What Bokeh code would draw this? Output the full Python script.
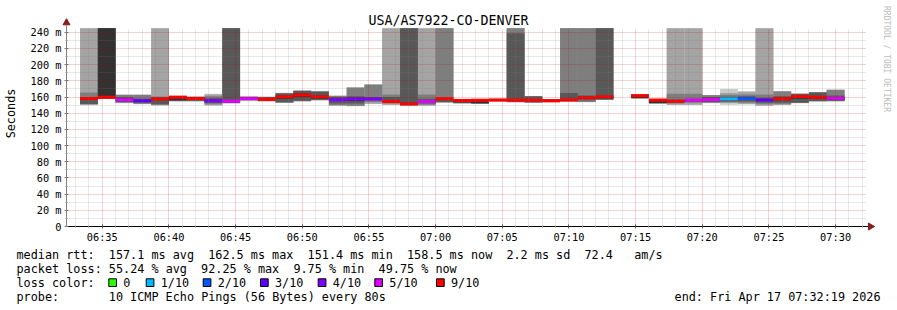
import math
import re
from bokeh.plotting import figure
from bokeh.layouts import row, column
from bokeh.models import FixedTicker, Range1d, ColumnDataSource, Grid, Spacer
from bokeh.core.properties import value
from bokeh.embed import file_html
from bokeh.resources import INLINE

# ---------------------------------------------------------------- data
T = 999.0  # ping above the graph maximum -> drawn up to the top

# 10 sorted ping rtts (ms) per 80 s step, starting 06:33:20 (None = no data)
pings = [
    [150.0, 150.6, 151.0, 151.5, 157.0, 159.0, 160.0, 165.7, T, T],
    [157.5, 157.8, 158.0, 158.2, 158.5, T, T, T, T, T],
    [152.2, 152.5, 152.8, 154.0, 155.0, 158.0, 160.0, 162.5, 162.8, 163.0],
    [151.0, 151.4, 151.8, 153.0, 154.5, 156.5, 158.0, 162.5, 162.9, 163.2],
    [149.4, 150.0, 150.6, 151.0, 156.0, 158.5, 160.0, 160.8, T, T],
    [154.5, 154.7, 155.0, 155.3, 156.0, 160.5, 161.0, 161.3, 161.5, 161.6],
    [154.5, 154.7, 155.0, 155.5, 156.5, 159.5, 160.0, 160.3, 160.5, 160.7],
    [149.4, 150.0, 151.0, 152.5, 154.0, 157.0, 158.5, 161.0, 163.0, 164.0],
    [152.0, 152.3, 152.5, 153.0, 154.0, 156.0, T, T, T, T],
    [154.7, 155.0, 157.0, 157.3, 157.6, 158.8, 159.1, 159.4, 161.0, 161.3],
    [154.5, 154.7, 155.0, 155.2, 156.0, 158.5, 159.8, 160.0, 160.2, 160.4],
    [152.8, 153.0, 153.2, 153.5, 158.0, 162.0, 164.5, 164.8, 165.0, 165.2],
    [154.5, 154.7, 155.0, 155.5, 160.0, 164.5, 167.5, 167.7, 168.0, 168.2],
    [155.7, 156.0, 156.2, 156.5, 158.0, 162.0, 166.5, 166.8, 167.0, 167.2],
    [149.2, 149.4, 149.7, 152.0, 155.0, 158.0, 160.0, 161.4, 161.6, 161.8],
    [148.5, 148.8, 149.2, 152.0, 155.0, 159.5, 161.0, 171.5, 171.8, 172.0],
    [151.5, 151.8, 154.0, 156.0, 157.0, 158.5, 160.0, 175.3, 175.5, 175.7],
    [150.3, 150.6, 152.0, 153.0, 154.0, 156.0, 160.0, 163.0, T, T],
    [149.0, 149.4, 149.8, 150.2, 151.0, 153.0, T, T, T, T],
    [149.2, 149.4, 150.5, 152.0, 153.5, 156.0, 158.0, 163.0, T, T],
    [153.0, 153.3, 153.5, 154.0, 156.5, 157.5, 158.5, T, T, T],
    [152.0, 152.2, 152.4, 152.6, 153.5, 157.0, 157.3, 157.5, 157.7, 157.9],
    [151.5, 151.8, 152.0, 152.2, 152.4, 156.5, 157.0, 157.3, 157.5, 157.7],
    [154.5, 154.7, 154.9, 155.0, 155.2, 157.2, 157.5, 157.7, 157.9, 158.0],
    [153.5, 153.7, 154.0, 154.2, 155.0, 157.0, 238.7, T, T, T],
    [152.8, 153.0, 153.2, 153.5, 155.0, 157.5, 160.8, 161.0, 161.2, 161.4],
    [153.5, 153.7, 154.0, 154.2, 154.5, 156.5, 157.0, 157.2, 157.4, 157.6],
    [154.2, 154.5, 154.7, 155.0, 155.5, 157.6, 165.0, T, T, T],
    [153.5, 153.8, 154.0, 156.0, 157.5, 160.5, 162.0, T, T, T],
    [156.2, 156.5, 156.7, 157.0, 158.5, 161.0, T, T, T, T],
    None,
    [158.2, 158.4, 158.5, 158.6, 158.7, 162.7, 162.8, 162.9, 163.0, 163.1],
    [151.8, 152.0, 152.2, 152.4, 152.6, 156.8, 157.0, 157.2, 157.4, 157.6],
    [150.3, 150.6, 152.0, 153.0, 154.0, 155.5, 157.0, 164.0, T, T],
    [150.3, 150.6, 153.0, 154.0, 155.0, 157.0, 158.0, 164.0, T, T],
    [152.4, 152.6, 153.0, 154.0, 156.0, 158.0, 160.0, 162.2, 162.4, 162.6],
    [150.6, 152.6, 153.5, 154.5, 156.5, 159.0, 160.5, 162.9, 165.0, 169.8],
    [150.8, 151.5, 153.0, 154.5, 156.5, 159.5, 161.0, 163.0, 166.5, 167.2],
    [149.2, 149.4, 151.0, 153.0, 155.0, 157.0, 159.0, 163.0, T, T],
    [150.4, 150.6, 151.0, 153.0, 156.0, 159.0, 161.0, 166.8, 167.0, 167.2],
    [152.4, 152.6, 152.8, 153.0, 158.0, 162.5, 163.8, 164.0, 164.2, 164.4],
    [154.5, 154.7, 154.9, 155.1, 157.5, 161.0, 165.5, 165.7, 165.9, 166.1],
    [154.5, 154.7, 155.0, 155.5, 157.0, 160.0, 162.0, 168.8, 169.0, 169.2],
]

median_ms = [158.3, 159.8, 156.5, 155.5, 157.5, 159.8, 158.3, 155.5, 154.7, 158.2,
             157.2, 160.5, 162.5, 160.3, 156.7, 157.5, 157.7, 154.5, 151.4, 154.5,
             158.0, 155.7, 156.0, 156.3, 156.0, 156.0, 155.5, 156.3, 159.0, 160.3,
             None, 161.5, 156.3, 154.7, 156.0, 157.0, 158.0, 158.3, 156.3, 157.8,
             160.8, 159.6, 158.5]

loss_tenths = [9, 9, 5, 3, 9, 9, 9, 4, 5, 5,
               9, 9, 9, 9, 4, 4, 4, 9, 9, 5,
               9, 9, 9, 9, 9, 9, 9, 9, 9, 9,
               None, 9, 9, 9, 5, 5, 1, 2, 3, 9,
               9, 9, 5]

loss_levels = [0, 1, 2, 3, 4, 5, 9]
loss_labels = ["0", "1/10", "2/10", "3/10", "4/10", "5/10", "9/10"]
loss_colors = ["#26ff00", "#00b8ff", "#0059ff", "#5e00ff", "#7e00ff", "#dd00ff", "#ff0000"]

y_ticks = [0, 20, 40, 60, 80, 100, 120, 140, 160, 180, 200, 220, 240]
y_tick_labels = ["0", "20 m", "40 m", "60 m", "80 m", "100 m", "120 m", "140 m",
                 "160 m", "180 m", "200 m", "220 m", "240 m"]
x_tick_labels = ["06:35", "06:40", "06:45", "06:50", "06:55", "07:00", "07:05",
                 "07:10", "07:15", "07:20", "07:25", "07:30"]

title_text = "USA/AS7922-CO-DENVER"
legend_lines = [
    "median rtt:  157.1 ms avg  162.5 ms max  151.4 ms min  158.5 ms now  2.2 ms sd  72.4   am/s",
    "packet loss: 55.24 % avg  92.25 % max  9.75 % min  49.75 % now",
    "loss color:",
    "probe:       10 ICMP Echo Pings (56 Bytes) every 80s",
]
end_text = "end: Fri Apr 17 07:32:19 2026"
watermark = "RRDTOOL / TOBI OETIKER"


def hms(s):
    h, m, sec = (int(v) for v in s.split(":"))
    return h * 3600 + m * 60 + sec


graph_start = hms("06:32:19")
graph_end = hms("07:32:19")
first_step = hms("06:33:20")
step_len = 80

# ---------------------------------------------------------------- layout
W, H = 897, 310
TOP_H = 245                          # main figure; legend strip below it
PW = W - 1                           # main figure width
FL, FR, FT, FB = 66, 866, 28, 228    # graph area (canvas pixels)
YMAX = 245.0
MONO = "DejaVu Sans Mono"
PX_X = (FR - FL) / (graph_end - graph_start)   # pixels per second
PX_Y = (FB - FT) / YMAX                        # pixels per ms


def cx2t(cx):   # canvas x -> time
    return graph_start + (cx - FL) / PX_X


def cy2v(cy):   # canvas y -> ms
    return (FB - cy) / PX_Y


# the frame spans the whole canvas above the x axis, so title, watermark and
# arrow heads can be drawn inside it; grids and axes are bounded to the graph
p = figure(width=PW, height=TOP_H, output_backend="svg", toolbar_location=None,
           title=None,
           x_range=Range1d(graph_start, cx2t(PW)), y_range=Range1d(0, cy2v(0)),
           min_border_left=FL, min_border_right=0,
           min_border_top=0, min_border_bottom=TOP_H - FB)
p.outline_line_color = None
p.background_fill_color = "white"
p.border_fill_color = "white"

# smoke
shades = ["#cacaca", "#a4a4a4", "#7e7e7e", "#585858", "#323232"]
for layer in range(5):
    L, R, B, Tp = [], [], [], []
    for k, r in enumerate(pings):
        if r is None:
            continue
        t0 = first_step + k * step_len
        L.append(t0)
        R.append(t0 + step_len)
        B.append(r[layer])
        Tp.append(min(r[9 - layer], YMAX))
    p.quad(left=L, right=R, bottom=B, top=Tp, fill_color=shades[layer],
           line_color=None)


def loss_color(v):
    c = loss_colors[0]
    for lev, col in zip(loss_levels, loss_colors):
        if v >= lev:
            c = col
    return c


mx0, mx1, my, mc = [], [], [], []
for k, (m, l) in enumerate(zip(median_ms, loss_tenths)):
    if m is None:
        continue
    t0 = first_step + k * step_len
    mx0.append(t0)
    mx1.append(t0 + step_len)
    my.append(m)
    mc.append(loss_color(l))
p.segment(x0="x0", y0="y", x1="x1", y1="y", line_color="c", line_width=3,
          line_cap="butt",
          source=ColumnDataSource(dict(x0=mx0, x1=mx1, y=my, c=mc)))

# ticks / grid
x_major = [hms(l + ":00") for l in x_tick_labels]
x_minor = [t for t in range(hms("06:33:00"), graph_end, 60) if t not in x_major]
y_minor = [v for v in range(10, 245, 10) if v not in y_ticks]

p.xaxis.ticker = FixedTicker(ticks=x_major, minor_ticks=x_minor)
p.xaxis.major_label_overrides = {t: lab for t, lab in zip(x_major, x_tick_labels)}
p.yaxis.ticker = FixedTicker(ticks=y_ticks, minor_ticks=y_minor)
p.yaxis.major_label_overrides = {t: lab for t, lab in zip(y_ticks, y_tick_labels)}
p.xaxis.bounds = (graph_start, cx2t(868))
p.yaxis.bounds = (0, cy2v(25))

for ax in (p.xaxis, p.yaxis):
    ax.major_label_text_font = MONO
    ax.major_label_text_font_size = "10.3px"
    ax.major_label_text_color = "black"
    ax.major_tick_in = 2
    ax.major_tick_out = 2
    ax.minor_tick_in = 1
    ax.minor_tick_out = 1
p.xaxis.axis_line_color = "black"
p.xaxis.major_tick_line_color = "#555555"
p.xaxis.minor_tick_line_color = "#888888"
p.xaxis.major_label_standoff = 2
p.yaxis.axis_line_color = "#808080"
p.yaxis.major_tick_line_color = "#808080"
p.yaxis.minor_tick_line_color = "#999999"
p.yaxis.major_label_standoff = 3
p.yaxis.axis_label = "Seconds"
p.yaxis.axis_label_text_font = MONO
p.yaxis.axis_label_text_font_size = "11.8px"
p.yaxis.axis_label_text_font_style = "normal"
p.yaxis.axis_label_text_color = "black"
p.yaxis.axis_label_standoff = 10

p.xgrid.ticker = FixedTicker(ticks=x_major, minor_ticks=x_minor)
p.ygrid.ticker = FixedTicker(ticks=[v for v in y_ticks if v > 0], minor_ticks=y_minor)
has_cross = "cross_bounds" in Grid.properties()
for g in (p.xgrid, p.ygrid):
    g.grid_line_color = "#c00000"
    g.grid_line_alpha = 0.35
    g.grid_line_dash = "1 1"
    g.minor_grid_line_color = "#808080"
    g.minor_grid_line_alpha = 0.35
    g.minor_grid_line_dash = "1 1"
    g.level = "guide"
if has_cross:
    p.xgrid.cross_bounds = (0, YMAX)
    p.ygrid.cross_bounds = (graph_start, graph_end)
else:
    # mask the grid outside the graph area
    p.quad(left=[graph_start, graph_end], right=[cx2t(PW), cx2t(PW)],
           bottom=[YMAX, 0], top=[cy2v(0), cy2v(0)],
           fill_color="white", line_color=None, level="overlay")

# title, watermark, arrow heads
p.text(x=[cx2t(368)], y=[cy2v(20)], text=[title_text], text_baseline="middle",
       text_font=value(MONO), text_font_size=value("13.3px"), text_color="black",
       level="overlay")
p.text(x=[cx2t(886)], y=[cy2v(59)], text=[watermark], angle=-math.pi / 2,
       text_align="center", text_baseline="middle", text_font=value(MONO),
       text_font_size=value("8px"), text_color="#bbbbbb", level="overlay")
arrow_col = "#8b1a1a"
p.scatter(x=[graph_start], y=[cy2v(22.5)], marker="triangle", size=7,
          fill_color=arrow_col, line_color=arrow_col, level="overlay")
p.scatter(x=[cx2t(870)], y=[0], marker="triangle", size=7, angle=-math.pi / 2,
          fill_color=arrow_col, line_color=arrow_col, level="overlay")

# ---------------------------------------------------------------- legend strip
LEG_H = H - TOP_H
q = figure(width=W, height=LEG_H, output_backend="svg", toolbar_location=None,
           title=None,
           x_range=Range1d(0, W), y_range=Range1d(0, LEG_H),
           x_axis_location=None, y_axis_location=None,
           min_border_left=0, min_border_right=0, min_border_top=0,
           min_border_bottom=0)
q.outline_line_color = None
q.grid.visible = False

CW = 7.1        # advance of one monospace character (px)
LX = 16         # left edge of the legend text
line_y = [254.3, 268.3, 282.3, 296.3]


def qy(cy):
    return H - cy


# each legend line is placed piece by piece on its character columns, so the
# padding between the fields survives (svg collapses runs of blanks)
tx, ty, tt = [], [], []
for line, cy in zip(legend_lines, line_y):
    for m in re.finditer(r"\S+(?: \S+)*", line):
        tx.append(LX + m.start() * CW)
        ty.append(qy(cy))
        tt.append(m.group())
q.text(x=tx, y=ty, text=tt, text_baseline="middle", text_font=value(MONO),
       text_font_size=value("11.8px"), text_color="black")
q.text(x=[880], y=[qy(line_y[3])], text=[end_text], text_align="right",
       text_baseline="middle", text_font=value(MONO),
       text_font_size=value("11.8px"), text_color="black")

box_left = [108.3, 145.7, 202.7, 260.0, 317.7, 374.3, 436.0]
q.quad(left=box_left, right=[b + 7.7 for b in box_left],
       top=[qy(278.3)] * len(box_left), bottom=[qy(286.0)] * len(box_left),
       fill_color=loss_colors, line_color="black", line_width=1)
q.text(x=[b + 14.5 for b in box_left], y=[qy(line_y[2])] * len(box_left),
       text=loss_labels, text_baseline="middle", text_font=value(MONO),
       text_font_size=value("11.8px"), text_color="black")

layout = column(row(p, Spacer(width=W - PW, height=TOP_H)), q)
open("out.html", "w").write(file_html(layout, INLINE))
